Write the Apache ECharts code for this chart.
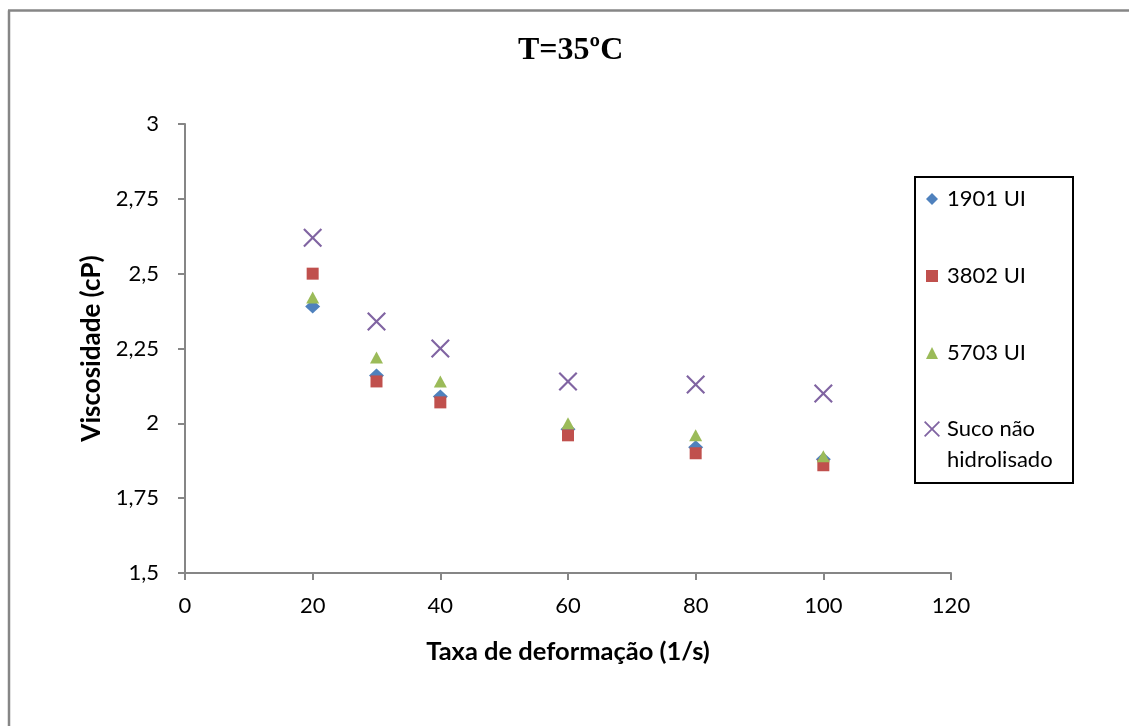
<!DOCTYPE html>
<html>
<head>
<meta charset="utf-8">
<title>T=35ºC</title>
<script src="https://cdn.jsdelivr.net/npm/echarts@6/dist/echarts.min.js"></script>
<style>
  html, body { margin: 0; padding: 0; background: #ffffff; }
  #chart { width: 1129px; height: 726px; }
</style>
</head>
<body>
<div id="chart"></div>
<script>
// Shear rate (1/s)
const shearRates = [20, 30, 40, 60, 80, 100];
// Viscosity (cP) per enzyme dose
const visc1901 = [2.39, 2.16, 2.09, 1.98, 1.92, 1.88];
const visc3802 = [2.50, 2.14, 2.07, 1.96, 1.90, 1.86];
const visc5703 = [2.42, 2.22, 2.14, 2.00, 1.96, 1.89];
const viscRaw  = [2.62, 2.34, 2.25, 2.14, 2.13, 2.10];

const seriesNames = ['1901 UI', '3802 UI', '5703 UI', 'Suco não hidrolisado'];
const xTicks = [0, 20, 40, 60, 80, 100, 120];
const yTicks = [1.5, 1.75, 2, 2.25, 2.5, 2.75, 3];

const pairs = (ys) => shearRates.map((x, i) => [x, ys[i]]);
const fmtComma = (v) => String(v).replace('.', ',');

// thin "x" cross drawn as a filled outline
const crossPath = 'path://M0.8,0L5,4.2L9.2,0L10,0.8L5.8,5L10,9.2L9.2,10L5,5.8L0.8,10L0,9.2L4.2,5L0,0.8Z';

const FONT = 'Lato, "Open Sans", sans-serif';
const AXIS_GREY = '#868686';

const chart = echarts.init(document.getElementById('chart'), null, { renderer: 'canvas' });

chart.setOption({
  animation: false,
  backgroundColor: '#ffffff',
  title: {
    text: 'T=35ºC',
    left: 513,
    top: 30,
    textStyle: {
      fontFamily: '"Liberation Serif", "Times New Roman", serif',
      fontWeight: 'bold',
      fontSize: 32,
      color: '#000000'
    }
  },
  graphic: [
    // outer frame (left and top edges)
    { type: 'line', shape: { x1: 9, y1: 10.5, x2: 9, y2: 740 }, style: { stroke: AXIS_GREY, lineWidth: 2.5 } },
    { type: 'line', shape: { x1: 8, y1: 10.5, x2: 1140, y2: 10.5 }, style: { stroke: AXIS_GREY, lineWidth: 2.5 } },
    // legend box
    { type: 'rect', shape: { x: 915, y: 177, width: 158, height: 306 }, style: { fill: '#ffffff', stroke: '#000000', lineWidth: 2 }, z: 0 }
  ],
  legend: [
    {
      orient: 'vertical',
      left: 926,
      top: 183.5,
      padding: 0,
      itemWidth: 12,
      itemHeight: 12,
      itemGap: 46,
      selectedMode: false,
      data: [
        { name: seriesNames[0], icon: 'diamond' },
        { name: seriesNames[1], icon: 'rect' },
        { name: seriesNames[2], icon: 'triangle' }
      ],
      textStyle: { fontFamily: FONT, fontSize: 22, color: '#000000', lineHeight: 31, padding: [0, 0, 0, 4] },
      z: 5
    },
    {
      orient: 'vertical',
      left: 924,
      top: 382.5,
      padding: 0,
      itemWidth: 16,
      itemHeight: 16,
      selectedMode: false,
      data: [{ name: seriesNames[3], icon: crossPath }],
      // leading blank line keeps the marker level with the first text line
      formatter: () => '\nSuco não\nhidrolisado',
      textStyle: { fontFamily: FONT, fontSize: 22, color: '#000000', lineHeight: 31, padding: [0, 0, 0, 2] },
      z: 5
    }
  ],
  grid: { left: 185, right: 178, top: 124, bottom: 153, containLabel: false },
  xAxis: {
    type: 'value',
    min: xTicks[0],
    max: xTicks[xTicks.length - 1],
    interval: xTicks[1] - xTicks[0],
    name: 'Taxa de deformação (1/s)',
    nameLocation: 'middle',
    nameGap: 66,
    nameTextStyle: { fontFamily: FONT, fontWeight: 'bold', fontSize: 25.5, color: '#000000' },
    axisLine: { show: true, onZero: false, lineStyle: { color: AXIS_GREY, width: 2 } },
    axisTick: { show: true, length: 7, lineStyle: { color: AXIS_GREY, width: 2 } },
    axisLabel: { margin: 22, fontFamily: FONT, fontSize: 22, color: '#000000' },
    splitLine: { show: false }
  },
  yAxis: {
    type: 'value',
    min: yTicks[0],
    max: yTicks[yTicks.length - 1],
    interval: yTicks[1] - yTicks[0],
    name: 'Viscosidade (cP)',
    nameLocation: 'middle',
    nameRotate: 90,
    nameGap: 80,
    nameTextStyle: { fontFamily: FONT, fontWeight: 'bold', fontSize: 26, color: '#000000' },
    axisLine: { show: true, onZero: false, lineStyle: { color: AXIS_GREY, width: 2 } },
    axisTick: { show: true, length: 7, lineStyle: { color: AXIS_GREY, width: 2 } },
    axisLabel: { margin: 26, fontFamily: FONT, fontSize: 22, color: '#000000', formatter: fmtComma },
    splitLine: { show: false }
  },
  series: [
    {
      name: seriesNames[0], type: 'scatter', data: pairs(visc1901),
      symbol: 'diamond', symbolSize: [15, 14],
      itemStyle: { color: '#4F81BD', opacity: 1 }
    },
    {
      name: seriesNames[1], type: 'scatter', data: pairs(visc3802),
      symbol: 'rect', symbolSize: 12,
      itemStyle: { color: '#C0504D', opacity: 1 }
    },
    {
      name: seriesNames[2], type: 'scatter', data: pairs(visc5703),
      symbol: 'triangle', symbolSize: [13, 12],
      itemStyle: { color: '#9BBB59', opacity: 1 }
    },
    {
      name: seriesNames[3], type: 'scatter', data: pairs(viscRaw),
      symbol: crossPath, symbolSize: 19,
      itemStyle: { color: '#8064A2', opacity: 1 }
    }
  ]
});
</script>
</body>
</html>
